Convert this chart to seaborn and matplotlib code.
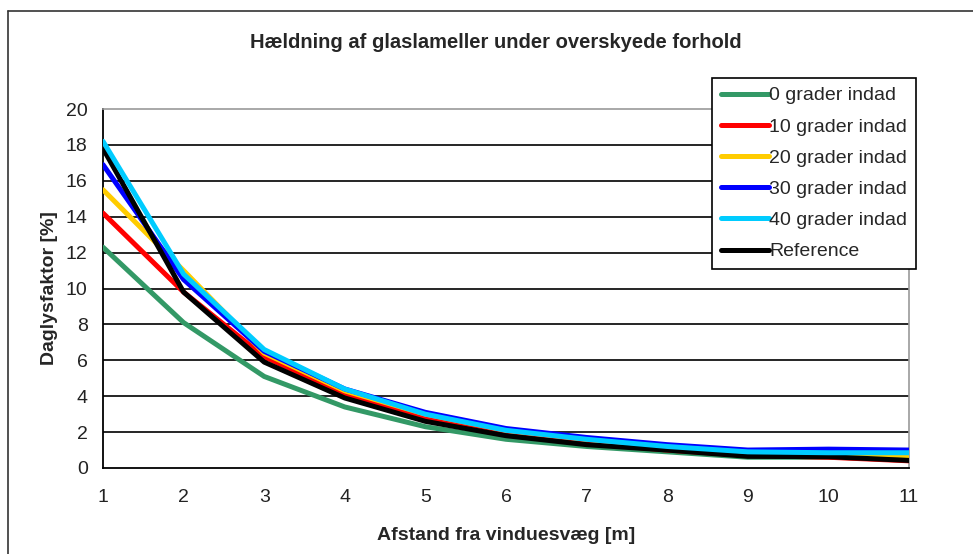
import matplotlib
matplotlib.use("Agg")
import matplotlib.pyplot as plt
import matplotlib.lines as mlines
import pandas as pd
import seaborn as sns

# ------------------------------------------------------------------
# Data
# ------------------------------------------------------------------
afstand = [1, 2, 3, 4, 5, 6, 7, 8, 9, 10, 11]
grader_0 = [12.3, 8.1, 5.1, 3.4, 2.3, 1.6, 1.2, 0.9, 0.6, 0.6, 0.5]
grader_10 = [14.2, 9.8, 6.2, 4.1, 2.8, 1.9, 1.4, 1.0, 0.7, 0.6, 0.4]
grader_20 = [15.5, 11.0, 6.4, 4.3, 3.0, 2.1, 1.6, 1.2, 0.9, 0.8, 0.7]
grader_30 = [16.9, 10.5, 6.5, 4.4, 3.1, 2.2, 1.7, 1.3, 1.0, 1.05, 1.0]
grader_40 = [18.2, 10.8, 6.6, 4.4, 3.0, 2.1, 1.6, 1.2, 0.9, 0.85, 0.85]
reference = [17.8, 9.8, 5.9, 3.9, 2.6, 1.8, 1.3, 1.0, 0.65, 0.63, 0.42]

series_names = ["0 grader indad", "10 grader indad", "20 grader indad",
                "30 grader indad", "40 grader indad", "Reference"]
series_values = [grader_0, grader_10, grader_20, grader_30, grader_40, reference]
series_colors = ["#339966", "#FF0000", "#FFCC00", "#0000FF", "#00CCFF", "#000000"]
series_zorder = [3, 4, 5, 6, 8, 7]

title = "Hældning af glaslameller under overskyede forhold"
xlabel = "Afstand fra vinduesvæg [m]"
ylabel = "Daglysfaktor [%]"
yticks = list(range(0, 21, 2))

# ------------------------------------------------------------------
# Figure
# ------------------------------------------------------------------
sns.set_theme(style="white")
plt.rcParams["font.family"] = ["Liberation Sans", "DejaVu Sans"]

fig = plt.figure(figsize=(9.73, 5.54), dpi=100)
ax = fig.add_axes([103 / 973, 1 - 468 / 554, (909 - 103) / 973, (468 - 109) / 554])

for name, vals, col, z in zip(series_names, series_values, series_colors, series_zorder):
    df = pd.DataFrame({"x": afstand, "y": vals})
    sns.lineplot(data=df, x="x", y="y", ax=ax, color=col, lw=3.0,
                 label=name, zorder=z, legend=False)

ax.set_xlim(1, 11)
ax.set_ylim(0, 20)
ax.set_xticks(afstand)
ax.set_yticks(yticks)
for t in yticks[1:-1]:
    ax.axhline(t, color="black", lw=1.2, zorder=1)

for s in ["left", "bottom"]:
    ax.spines[s].set_color("black")
    ax.spines[s].set_linewidth(1.3)
for s in ["top", "right"]:
    ax.spines[s].set_color("#999999")
    ax.spines[s].set_linewidth(1.2)

ax.tick_params(axis="both", direction="out", length=5, width=1.2, color="black",
               labelsize=14, labelcolor="#222222", pad=6)
ax.tick_params(axis="x", pad=10)

ax.set_xlabel(xlabel, fontsize=14, fontweight="bold", labelpad=15)
ax.set_ylabel(ylabel, fontsize=14, fontweight="bold", labelpad=6)
fig.text(496 / 973, 1 - 43 / 554, title, fontsize=14.5, fontweight="bold",
         ha="center", va="center")

handles, labels = ax.get_legend_handles_labels()
for h in handles:
    h.set_linewidth(3.6)
leg = fig.legend(handles, labels, loc="upper right",
                 bbox_to_anchor=(916 / 973, 1 - 78 / 554),
                 fontsize=14, frameon=True, fancybox=False, framealpha=1,
                 edgecolor="black", handlelength=2.5, handletextpad=0.0,
                 labelspacing=0.7, borderpad=0.45, borderaxespad=0)
leg.get_frame().set_linewidth(1.2)

# outer chart frame
fig.add_artist(mlines.Line2D([8 / 973, 8 / 973], [0, 1 - 11 / 554],
                             transform=fig.transFigure, color="#333333", lw=1.2))
fig.add_artist(mlines.Line2D([8 / 973, 1], [1 - 11 / 554, 1 - 11 / 554],
                             transform=fig.transFigure, color="#333333", lw=1.2))

fig.savefig("out.png", dpi=100)
